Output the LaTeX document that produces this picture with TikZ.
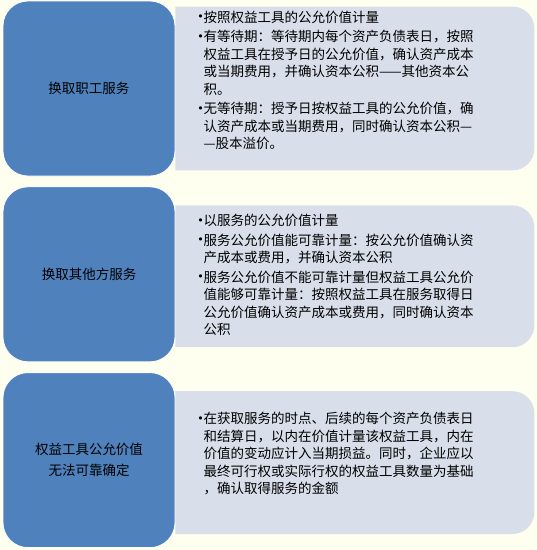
\documentclass[tikz,border=0pt]{standalone}
\usepackage{fontspec}
\setmainfont{Noto Sans CJK SC}
\newfontfamily\dotfont{DejaVu Sans}
\usetikzlibrary{positioning, backgrounds}
\definecolor{cream}{RGB}{255,255,240}
\definecolor{office}{RGB}{79,129,189}
\definecolor{panelgrey}{RGB}{216,222,234}
\newcommand{\bul}{\makebox[6pt]{\raisebox{1.5pt}{\dotfont\fontsize{11pt}{11pt}\selectfont •}}}
\newcommand{\ind}{\hspace*{6pt}}

\begin{document}
\begin{tikzpicture}[
        font=\fontsize{13.5pt}{17.5pt}\selectfont,
        topic/.style={rectangle, rounded corners=25pt, fill=office, draw=white, line width=0.8pt,
            minimum width=172pt, minimum height=175pt, align=center},
        detail/.style={inner sep=0pt, align=left},
        panel/.style={fill=panelgrey},
    ]

    % Left boxes
    \node[topic] (labor) at (89pt,-88.5pt) {换取职工服务};
    \node[topic, below=10pt of labor] (other) {换取其他方服务};
    \node[topic, below=10pt of other, font=\fontsize{13.5pt}{21pt}\selectfont] (equity) {权益工具公允价值\\无法可靠确定};

    % Texts
    \node[detail, right=22pt of labor, yshift=8pt] (laborinfo) {%
        \bul 按照权益工具的公允价值计量\\[2pt]
        \bul 有等待期：等待期内每个资产负债表日，按照\\
        \ind 权益工具在授予日的公允价值，确认资产成本\\
        \ind 或当期费用，并确认资本公积——其他资本公\\
        \ind 积。\\[2pt]
        \bul 无等待期：授予日按权益工具的公允价值，确\\
        \ind 认资产成本或当期费用，同时确认资本公积—\\
        \ind —股本溢价。};
    \node[detail, right=22pt of other, yshift=-1pt] (otherinfo) {%
        \bul 以服务的公允价值计量\\[2pt]
        \bul 服务公允价值能可靠计量：按公允价值确认资\\
        \ind 产成本或费用，并确认资本公积\\[2pt]
        \bul 服务公允价值不能可靠计量但权益工具公允价\\
        \ind 值能够可靠计量：按照权益工具在服务取得日\\
        \ind 公允价值确认资产成本或费用，同时确认资本\\
        \ind 公积};
    \node[detail, right=22pt of equity, yshift=6.5pt] (equityinfo) {%
        \bul 在获取服务的时点、后续的每个资产负债表日\\
        \ind 和结算日，以内在价值计量该权益工具，内在\\
        \ind 价值的变动应计入当期损益。同时，企业应以\\
        \ind 最终可行权或实际行权的权益工具数量为基础\\
        \ind ，确认取得服务的金额};

    % Background and panels
    \begin{scope}[on background layer]
    \fill[cream] (0,0) rectangle (537pt,-550pt);
    \foreach \n/\t/\b in {labor/6pt/6pt, other/19pt/15pt, equity/19pt/14pt}
        \fill[panel] ([yshift=-\t]\n.north east) -- ++(337pt,0)
            arc[start angle=90, end angle=0, radius=22pt]
            -- ([xshift=359pt, yshift={\b+22pt}]\n.south east)
            arc[start angle=0, end angle=-90, radius=22pt]
            -- ([yshift=\b]\n.south east) -- cycle;
    \end{scope}

\end{tikzpicture}
\end{document}
